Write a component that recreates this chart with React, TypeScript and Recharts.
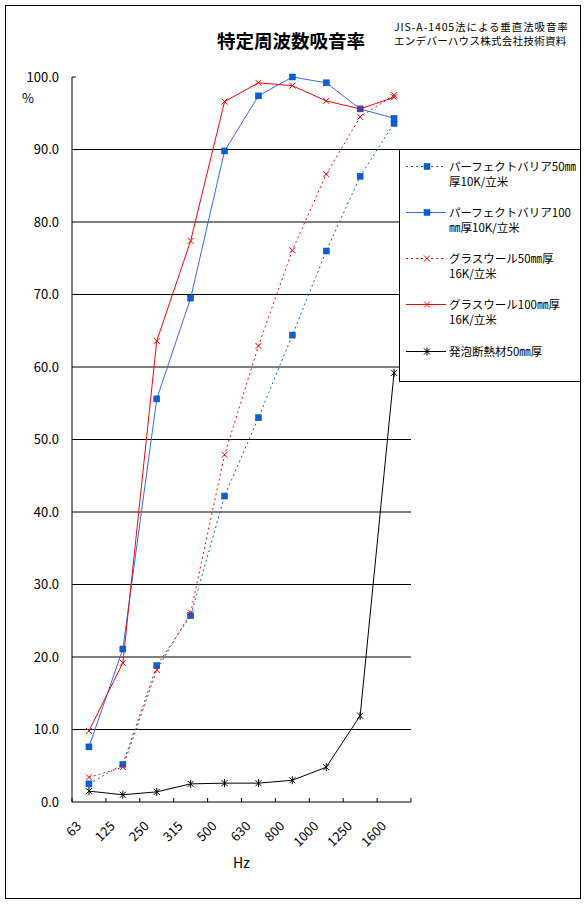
import { LineChart, Line, XAxis, YAxis, ReferenceLine, Legend } from "recharts";

// 1/3オクターブ中心周波数 (Hz)
const freqLabels = ["63", "125", "250", "315", "500", "630", "800", "1000", "1250", "1600"];
const yTicks = [0, 10, 20, 30, 40, 50, 60, 70, 80, 90, 100];
const gridValues = [10, 20, 30, 40, 50, 60, 70, 80, 90];

// 吸音率 (%)
const pb50 = [2.5, 5.2, 18.8, 25.7, 42.2, 53.0, 64.4, 76.0, 86.3, 93.6];
const pb100 = [7.6, 21.1, 55.6, 69.5, 89.8, 97.4, 100.0, 99.2, 95.6, 94.3];
const gw50 = [3.4, 4.8, 18.2, 26.1, 47.9, 62.9, 76.1, 86.6, 94.5, 97.5];
const gw100 = [9.8, 19.2, 63.6, 77.4, 96.6, 99.2, 98.8, 96.7, 95.6, 97.2];
const foam = [1.5, 1.0, 1.4, 2.5, 2.6, 2.6, 3.0, 4.8, 11.9, 59.2];

type MarkerKind = "square" | "cross" | "star";

const series = [
  { key: "pb50", label: ["パーフェクトバリア50㎜", "厚10K/立米"], color: "#0066cc", markColor: "#0a5fd6", dash: "2 3", marker: "square" as MarkerKind },
  { key: "pb100", label: ["パーフェクトバリア100", "㎜厚10K/立米"], color: "#3366ff", markColor: "#0a5fd6", dash: undefined, marker: "square" as MarkerKind },
  { key: "gw50", label: ["グラスウール50㎜厚", "16K/立米"], color: "#ff0000", markColor: "#ff0000", dash: "2 3", marker: "cross" as MarkerKind },
  { key: "gw100", label: ["グラスウール100㎜厚", "16K/立米"], color: "#ff0000", markColor: "#ff0000", dash: undefined, marker: "cross" as MarkerKind },
  { key: "foam", label: ["発泡断熱材50㎜厚"], color: "#000000", markColor: "#000000", dash: undefined, marker: "star" as MarkerKind },
];

const data = freqLabels.map((f, i) => ({
  x: i + 0.5,
  freq: f,
  pb50: pb50[i],
  pb100: pb100[i],
  gw50: gw50[i],
  gw100: gw100[i],
  foam: foam[i],
}));

function Marker({ kind, cx, cy, color }: { kind: MarkerKind; cx: number; cy: number; color: string }) {
  if (kind === "square") {
    return <rect x={cx - 3} y={cy - 3} width={6} height={6} fill={color} stroke="#0050b0" strokeWidth={0.5} />;
  }
  if (kind === "cross") {
    return (
      <path
        d={`M${cx - 3},${cy - 3}L${cx + 3},${cy + 3}M${cx - 3},${cy + 3}L${cx + 3},${cy - 3}`}
        stroke={color}
        strokeWidth={1}
        fill="none"
      />
    );
  }
  return (
    <path
      d={`M${cx - 3},${cy - 3}L${cx + 3},${cy + 3}M${cx - 3},${cy + 3}L${cx + 3},${cy - 3}M${cx},${cy - 4}L${cx},${cy + 4}`}
      stroke={color}
      strokeWidth={1}
      fill="none"
    />
  );
}

const FreqTick = (props: any) => {
  const { x, y, payload } = props;
  const label = freqLabels[payload.value] ?? "";
  return (
    <g>
      <line x1={x} y1={y - 4} x2={x} y2={y} stroke="#000" />
      {label && (
        <text
          transform={`translate(${x + 10},${y + 25}) rotate(-45)`}
          textAnchor="end"
          fontSize={13}
          fill="#000"
        >
          {label}
        </text>
      )}
    </g>
  );
};

const LegendBox = () => (
  <div
    style={{
      width: 182,
      height: 233,
      boxSizing: "border-box",
      border: "1px solid #000",
      background: "#fff",
      position: "relative",
      fontSize: 11.5,
      lineHeight: "15px",
      color: "#000",
    }}
  >
    {series.map((s, i) => {
      const top = 16 + i * 46.3 - 7.5;
      return (
        <div key={s.key} style={{ position: "absolute", left: 0, top, width: 180 }}>
          <svg width={48} height={15} style={{ position: "absolute", left: 6, top: 0 }}>
            <line x1={0} y1={7.5} x2={40} y2={7.5} stroke={s.color} strokeDasharray={s.dash} />
            <Marker kind={s.marker} cx={21} cy={7.5} color={s.markColor} />
          </svg>
          <div style={{ position: "absolute", left: 49, top: 0, whiteSpace: "nowrap" }}>
            {s.label.map((t) => (
              <div key={t}>{t}</div>
            ))}
          </div>
        </div>
      );
    })}
  </div>
);

export default function App() {
  return (
    <div
      style={{
        position: "absolute",
        left: 0,
        top: 0,
        width: 588,
        height: 904,
        background: "#fff",
        fontFamily: "'Noto Sans CJK JP', sans-serif",
        color: "#000",
      }}
    >
      <div
        style={{
          position: "absolute",
          left: 5,
          top: 5,
          width: 576,
          height: 894,
          boxSizing: "border-box",
          border: "1px solid #000",
        }}
      />
      <div style={{ position: "absolute", left: 217, top: 29, fontSize: 18.5, lineHeight: "22px", fontWeight: "bold" }}>
        特定周波数吸音率
      </div>
      <div style={{ position: "absolute", left: 394, top: 20, fontSize: 10.5, lineHeight: "14px" }}>
        <div style={{ letterSpacing: 0.9 }}>JIS-A-1405法による垂直法吸音率</div>
        <div style={{ letterSpacing: 0.3 }}>エンデバーハウス株式会社技術資料</div>
      </div>
      <div style={{ position: "absolute", left: 22, top: 89, fontSize: 13, lineHeight: "18px" }}>%</div>
      <div style={{ position: "absolute", left: 0, top: 853, width: 483, textAlign: "center", fontSize: 14, lineHeight: "18px" }}>
        Hz
      </div>
      <div style={{ position: "absolute", left: 0, top: 0 }}>
        <LineChart width={588} height={904} data={data} margin={{ top: 77, right: 177, bottom: 0, left: 0 }}>
          {gridValues.map((v) => (
            <ReferenceLine key={v} y={v} stroke="#000" strokeWidth={1} />
          ))}
          <ReferenceLine
            segment={[
              { x: 0, y: 100 },
              { x: 0.12, y: 100 },
            ]}
            stroke="#000"
          />
          <XAxis
            type="number"
            dataKey="x"
            domain={[0, 10]}
            ticks={[0, 1, 2, 3, 4, 5, 6, 7, 8, 9, 10]}
            interval={0}
            height={102}
            axisLine={{ stroke: "#000" }}
            tickLine={false}
            tickSize={0}
            tickMargin={0}
            tick={<FreqTick />}
          />
          <YAxis
            type="number"
            domain={[0, 100]}
            ticks={yTicks}
            interval={0}
            width={72}
            axisLine={{ stroke: "#000" }}
            tickLine={false}
            tickSize={0}
            tickMargin={13}
            tickFormatter={(v: number) => v.toFixed(1)}
            tick={{ fill: "#000", fontSize: 13 }}
          />
          <Legend
            layout="vertical"
            align="center"
            verticalAlign="middle"
            content={() => <LegendBox />}
            wrapperStyle={{ left: 399, top: 149, width: 182, height: 233 }}
          />
          {series.map((s) => (
            <Line
              key={s.key}
              type="linear"
              dataKey={s.key}
              stroke={s.color}
              strokeWidth={1}
              strokeDasharray={s.dash}
              isAnimationActive={false}
              dot={(p: any) => (
                <Marker key={`${s.key}-${p.index}`} kind={s.marker} cx={p.cx} cy={p.cy} color={s.markColor} />
              )}
              activeDot={false}
            />
          ))}
        </LineChart>
      </div>
    </div>
  );
}
